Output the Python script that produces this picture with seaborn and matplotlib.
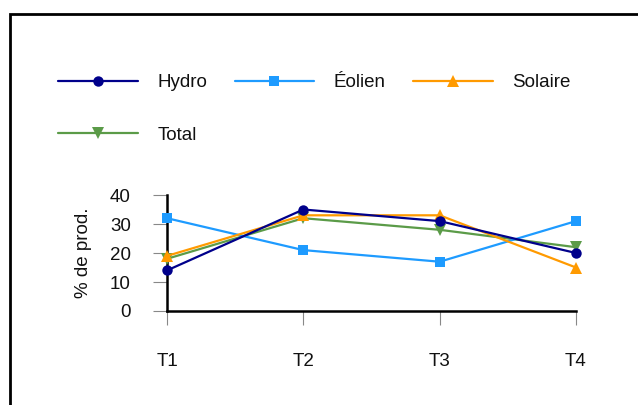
import matplotlib
matplotlib.use("Agg")
import matplotlib.pyplot as plt
import seaborn as sns
import pandas as pd
from matplotlib.patches import Rectangle

# data
trimestres = ["T1", "T2", "T3", "T4"]
hydro = [14, 35, 31, 20]
eolien = [32, 21, 17, 31]
solaire = [19, 33, 33, 15]
total = [18, 32, 28, 22]
y_ticks = [0, 10, 20, 30, 40]

series = [
    ("Hydro", hydro, "#00008B", "o", 7.5, 5),
    ("Éolien", eolien, "#1E9BFF", "s", 7.5, 3),
    ("Solaire", solaire, "#FF9A00", "^", 8, 4),
    ("Total", total, "#5B9B48", "v", 8, 2),
]

sns.set_style("white")
plt.rcParams["font.family"] = ["Liberation Sans", "DejaVu Sans"]

fig = plt.figure(figsize=(6.38, 4.05), dpi=100)
ax = fig.add_axes([0.2618, 0.2321, 0.9028 - 0.2618, 0.5185 - 0.2321])

handles = {}
for name, vals, col, mk, ms, z in series:
    df = pd.DataFrame({"t": trimestres, "v": vals})
    sns.lineplot(data=df, x="t", y="v", ax=ax, color=col, marker=mk,
                 markersize=ms, markeredgewidth=0, linewidth=1.6,
                 label=name, zorder=z, legend=False, clip_on=False)
    handles[name] = ax.lines[-1]

ax.set_xlim(0, 3)
ax.set_ylim(0, 40)
ax.set_yticks(y_ticks)
ax.set_xlabel("")
ax.set_ylabel("% de prod.", fontsize=13.5, color="#111111", labelpad=13)
ax.tick_params(axis="both", bottom=True, left=True, length=10, width=0.8,
               color="#888888", labelsize=13.5, labelcolor="#111111", pad=16)
ax.tick_params(axis="x", pad=20)

for s in ["top", "right"]:
    ax.spines[s].set_visible(False)
for s in ["left", "bottom"]:
    ax.spines[s].set_color("black")
    ax.spines[s].set_linewidth(1.8)
    ax.spines[s].set_zorder(1)

# legend: Hydro/Total in first column, then Éolien, Solaire
order = ["Hydro", "Total", "Éolien", "Solaire"]
fig.legend([handles[n] for n in order], order, loc="upper left",
           bbox_to_anchor=(0.0765, 0.84), ncol=3, frameon=False,
           fontsize=13.5, handlelength=4.25, handletextpad=1.05,
           columnspacing=1.45, labelspacing=1.9, borderpad=0,
           labelcolor="#111111")

# outer frame of the picture (partly cropped at right and bottom)
fig.patches.append(Rectangle((10 / 638, -0.1), 1.2, 1 - 14 / 405 + 0.1,
                             transform=fig.transFigure, fill=False,
                             edgecolor="black", linewidth=2))

fig.savefig("out.png", dpi=100)
